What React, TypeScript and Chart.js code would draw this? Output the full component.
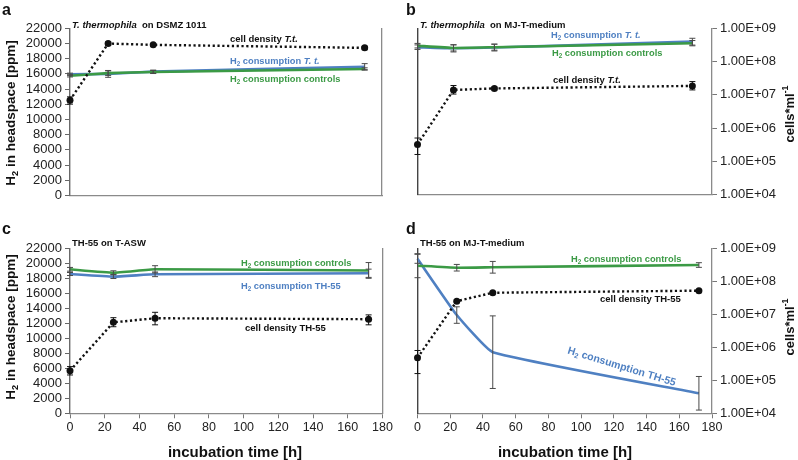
import React, { useEffect, useRef } from "react";
import { Chart, registerables } from "chart.js";

Chart.register(...registerables);

const FONT = '"Liberation Sans", Arial, Helvetica, sans-serif';
const BLUE = "#4f80c2";
const GREEN = "#3b9a45";
const BLACK = "#111111";

// ---------- data ----------
const xTicksMax = 180;
const xStep = 20;
const h2Max = 22000;
const h2Step = 2000;
const cellTicks = [1e4, 1e5, 1e6, 1e7, 1e8, 1e9];

// panel a: T. thermophila on DSMZ 1011
const timesA = [0, 22, 48, 170];
const h2TtA = [15950, 16000, 16300, 16950];
const h2TtErrA = [150, 450, 200, 400];
const h2CtrlA = [15750, 16100, 16250, 16650];
const h2CtrlErrA = [150, 300, 200, 150];
const cellsA = [7.1e6, 3.5e8, 3.2e8, 2.6e8];
const cellsLoA = [5.4e6, 3.1e8, 2.9e8, 2.3e8];
const cellsHiA = [8.9e6, 3.9e8, 3.5e8, 2.9e8];

// panel b: T. thermophila on MJ-T-medium
const timesB = [0, 22, 47, 168];
const h2TtB = [19500, 19350, 19450, 20230];
const h2TtErrB = [300, 480, 450, 450];
const h2CtrlB = [19700, 19400, 19500, 20030];
const h2CtrlErrB = [300, 400, 400, 350];
const cellsB = [3.2e5, 1.4e7, 1.55e7, 1.85e7];
const cellsLoB = [1.6e5, 1.05e7, 1.4e7, 1.4e7];
const cellsHiB = [5.0e5, 1.9e7, 1.7e7, 2.5e7];

// panel c: TH-55 on T-ASW
const timesC = [0, 25, 49, 172];
const h2CtrlC = [19200, 18750, 19200, 19050];
const h2CtrlErrC = [250, 250, 480, 1050];
const h2ThC = [18570, 18220, 18530, 18670];
const h2ThErrC = [200, 250, 310, 550];
const cellsC = [1.95e5, 5.7e6, 7.6e6, 7.1e6];
const cellsLoC = [1.45e5, 4.2e6, 4.8e6, 4.8e6];
const cellsHiC = [2.6e5, 7.9e6, 1.15e7, 9.6e6];

// panel d: TH-55 on MJ-T-medium
const timesD = [0, 24, 46, 172];
const h2CtrlD = [19680, 19410, 19470, 19770];
const h2CtrlErrD = [1600, 440, 780, 310];
const h2ThD = [20600, 13100, 8150, 2670];
const h2ThErrD = [600, 1100, 4840, 2240];
const cellsD = [4.8e5, 2.5e7, 4.5e7, 5.2e7];
const cellsLoD = [1.6e5, 2.3e7, 4.2e7, 4.9e7];
const cellsHiD = [8.0e5, 2.7e7, 4.8e7, 5.5e7];

// ---------- helpers ----------
type Seg = [string, string];
type TextItem = {
  x: number;
  y: number;
  segs: Seg[];
  size: number;
  color?: string;
  rot?: number;
  align?: "left" | "center";
  bold?: boolean;
};

function fontFor(st: string, base: number, bold: boolean) {
  const small = st === "sub" || st === "sup";
  return `${st === "i" ? "italic " : ""}${bold ? "bold " : ""}${small ? base * 0.68 : base}px ${FONT}`;
}

function drawRich(ctx: CanvasRenderingContext2D, it: TextItem) {
  const bold = it.bold !== false;
  let total = 0;
  for (const [t, st] of it.segs) {
    ctx.font = fontFor(st, it.size, bold);
    total += ctx.measureText(t).width;
  }
  ctx.save();
  ctx.translate(it.x, it.y);
  if (it.rot) ctx.rotate((it.rot * Math.PI) / 180);
  let x = it.align === "center" ? -total / 2 : 0;
  ctx.textBaseline = "alphabetic";
  ctx.textAlign = "left";
  ctx.fillStyle = it.color || BLACK;
  for (const [t, st] of it.segs) {
    ctx.font = fontFor(st, it.size, bold);
    let dy = 0;
    if (st === "sub") dy = it.size * 0.22;
    if (st === "sup") dy = -it.size * 0.42;
    ctx.fillText(t, x, it.size * 0.36 + dy);
    x += ctx.measureText(t).width;
  }
  ctx.restore();
}

function fmtSci(v: number) {
  const e = Math.round(Math.log10(v));
  const m = v / Math.pow(10, e);
  return `${m.toFixed(2)}E+${String(e).padStart(2, "0")}`;
}

const errorBarPlugin = {
  id: "errbars",
  afterDatasetsDraw(chart: any) {
    const ctx = chart.ctx as CanvasRenderingContext2D;
    chart.data.datasets.forEach((ds: any) => {
      if (!ds.errLo) return;
      const ys = chart.scales[ds.yAxisID];
      const xs = chart.scales.x;
      ds.data.forEach((pt: any, i: number) => {
        const x = xs.getPixelForValue(pt.x);
        const y1 = ys.getPixelForValue(ds.errLo[i]);
        const y2 = ys.getPixelForValue(ds.errHi[i]);
        ctx.save();
        ctx.strokeStyle = ds.errColor;
        ctx.lineWidth = 1;
        ctx.beginPath();
        ctx.moveTo(x, y1);
        ctx.lineTo(x, y2);
        ctx.moveTo(x - 3, y1);
        ctx.lineTo(x + 3, y1);
        ctx.moveTo(x - 3, y2);
        ctx.lineTo(x + 3, y2);
        ctx.stroke();
        ctx.restore();
      });
    });
  },
};

const textPlugin = {
  id: "richtext",
  afterDraw(chart: any) {
    const items: TextItem[] = chart.options.plugins.richtext?.items || [];
    const ctx = chart.ctx as CanvasRenderingContext2D;
    items.forEach((it) => drawRich(ctx, it));
  },
};

function h2Dataset(label: string, times: number[], vals: number[], errs: number[], color: string) {
  return {
    label,
    data: times.map((t, i) => ({ x: t, y: vals[i] })),
    yAxisID: "y",
    borderColor: color,
    backgroundColor: color,
    borderWidth: 2.6,
    pointRadius: 0,
    tension: 0.12,
    clip: false,
    errLo: vals.map((v, i) => v - errs[i]),
    errHi: vals.map((v, i) => v + errs[i]),
    errColor: "#4a4a4a",
  };
}

function cellDataset(label: string, times: number[], vals: number[], lo: number[], hi: number[]) {
  return {
    label,
    data: times.map((t, i) => ({ x: t, y: vals[i] })),
    yAxisID: "y2",
    borderColor: BLACK,
    backgroundColor: BLACK,
    borderWidth: 2.4,
    borderDash: [2.2, 2.6],
    pointRadius: 3.5,
    pointBackgroundColor: BLACK,
    pointBorderWidth: 0,
    clip: false,
    errLo: lo,
    errHi: hi,
    errColor: BLACK,
  };
}

type PanelCfg = {
  left: number;
  top: number;
  w: number;
  h: number;
  area: { l: number; r: number; t: number; b: number };
  showLeft: boolean;
  showX: boolean;
  datasets: any[];
  texts: TextItem[];
};

function buildConfig(p: PanelCfg): any {
  const tickFont = { family: FONT, size: 13 };
  return {
    type: "line",
    data: { datasets: p.datasets },
    plugins: [errorBarPlugin, textPlugin],
    options: {
      animation: false,
      responsive: false,
      events: [],
      layout: { padding: { top: p.area.t, left: 0, right: 0, bottom: 0 } },
      plugins: {
        legend: { display: false },
        tooltip: { enabled: false },
        richtext: { items: p.texts },
      },
      scales: {
        x: {
          type: "linear",
          position: "bottom",
          min: 0,
          max: xTicksMax,
          ticks: {
            display: p.showX,
            stepSize: xStep,
            color: "#222",
            font: { family: FONT, size: 12.5 },
            padding: 2,
            maxRotation: 0,
            autoSkip: false,
            callback: (v: any) => String(v),
          },
          grid: { display: p.showX, drawOnChartArea: false, drawTicks: true, tickLength: 5, color: "#777" },
          border: { display: true, color: "#8a8a8a", width: 1.3 },
          afterFit: (s: any) => {
            s.height = p.h - p.area.b;
          },
        },
        y: {
          type: "linear",
          position: "left",
          min: 0,
          max: h2Max,
          ticks: {
            display: p.showLeft,
            stepSize: h2Step,
            autoSkip: false,
            color: "#222",
            font: tickFont,
            padding: 3,
            callback: (v: any) => String(v),
          },
          grid: { display: p.showLeft, drawOnChartArea: false, drawTicks: true, tickLength: 5, color: "#666" },
          border: { display: true, color: p.showLeft ? "#6a6a6a" : "#444", width: 1.4 },
          afterFit: (s: any) => {
            s.width = p.area.l;
          },
        },
        y2: {
          type: "logarithmic",
          position: "right",
          min: cellTicks[0],
          max: cellTicks[cellTicks.length - 1],
          afterBuildTicks: (s: any) => {
            s.ticks = cellTicks.map((v) => ({ value: v }));
          },
          ticks: {
            display: !p.showLeft,
            autoSkip: false,
            color: "#222",
            font: tickFont,
            padding: 3,
            callback: (v: any) => fmtSci(Number(v)),
          },
          grid: { display: !p.showLeft, drawOnChartArea: false, drawTicks: true, tickLength: 5, color: "#777" },
          border: { display: true, color: "#8a8a8a", width: 1.3 },
          afterFit: (s: any) => {
            s.width = p.w - p.area.r;
          },
        },
      },
    },
  };
}

function Panel({ cfg }: { cfg: PanelCfg }) {
  const ref = useRef<HTMLCanvasElement | null>(null);
  useEffect(() => {
    if (!ref.current) return;
    const chart = new Chart(ref.current, buildConfig(cfg));
    return () => chart.destroy();
  }, []);
  return (
    <div style={{ position: "absolute", left: cfg.left, top: cfg.top, width: cfg.w, height: cfg.h }}>
      <canvas ref={ref} width={cfg.w} height={cfg.h} style={{ display: "block" }} />
    </div>
  );
}

const H2 = (rest: string, extra?: Seg): Seg[] => {
  const s: Seg[] = [["H", ""], ["2", "sub"], [rest, ""]];
  if (extra) s.push(extra);
  return s;
};

const yTitle = (y: number): TextItem => ({
  x: 10,
  y,
  segs: H2(" in headspace [ppm]"),
  size: 13.5,
  rot: -90,
  align: "center",
});

const rTitle = (y: number): TextItem => ({
  x: 390,
  y,
  segs: [["cells*ml", ""], ["-1", "sup"]],
  size: 13,
  rot: -90,
  align: "center",
});

const xTitle = (x: number): TextItem => ({
  x,
  y: 237,
  segs: [["incubation time [h]", ""]],
  size: 15,
  align: "center",
});

const panels: PanelCfg[] = [
  {
    left: 0,
    top: 0,
    w: 399,
    h: 215,
    area: { l: 70, r: 382, t: 28.3, b: 195.5 },
    showLeft: true,
    showX: false,
    datasets: [
      cellDataset("cell density T.t.", timesA, cellsA, cellsLoA, cellsHiA),
      h2Dataset("H2 consumption controls", timesA, h2CtrlA, h2CtrlErrA, GREEN),
      h2Dataset("H2 consumption T. t.", timesA, h2TtA, h2TtErrA, BLUE),
    ],
    texts: [
      { x: 2, y: 9, segs: [["a", ""]], size: 16 },
      { x: 72, y: 25, segs: [["T. thermophila", "i"], ["  on DSMZ 1011", ""]], size: 9.5 },
      { x: 230, y: 39, segs: [["cell density ", ""], ["T.t.", "i"]], size: 9.5 },
      { x: 230, y: 61, segs: H2(" consumption ", ["T. t.", "i"]), size: 9.3, color: BLUE },
      { x: 230, y: 79, segs: H2(" consumption controls"), size: 9.3, color: GREEN },
      yTitle(113),
    ],
  },
  {
    left: 399,
    top: 0,
    w: 399,
    h: 215,
    area: { l: 18.5, r: 313, t: 28.3, b: 194.5 },
    showLeft: false,
    showX: false,
    datasets: [
      cellDataset("cell density T.t.", timesB, cellsB, cellsLoB, cellsHiB),
      h2Dataset("H2 consumption controls", timesB, h2CtrlB, h2CtrlErrB, GREEN),
      h2Dataset("H2 consumption T. t.", timesB, h2TtB, h2TtErrB, BLUE),
    ],
    texts: [
      { x: 7, y: 9, segs: [["b", ""]], size: 16 },
      { x: 21, y: 25, segs: [["T. thermophila", "i"], ["  on MJ-T-medium", ""]], size: 9.5 },
      { x: 152, y: 35, segs: H2(" consumption ", ["T. t.", "i"]), size: 9.3, color: BLUE },
      { x: 153, y: 53, segs: H2(" consumption controls"), size: 9.3, color: GREEN },
      { x: 154, y: 80, segs: [["cell density ", ""], ["T.t.", "i"]], size: 9.5 },
      rTitle(114),
    ],
  },
  {
    left: 0,
    top: 215,
    w: 399,
    h: 245,
    area: { l: 70, r: 382.5, t: 33.3, b: 198.3 },
    showLeft: true,
    showX: true,
    datasets: [
      cellDataset("cell density TH-55", timesC, cellsC, cellsLoC, cellsHiC),
      h2Dataset("H2 consumption controls", timesC, h2CtrlC, h2CtrlErrC, GREEN),
      h2Dataset("H2 consumption TH-55", timesC, h2ThC, h2ThErrC, BLUE),
    ],
    texts: [
      { x: 2, y: 13, segs: [["c", ""]], size: 16 },
      { x: 72, y: 28, segs: [["TH-55 on T-ASW", ""]], size: 9.5 },
      { x: 241, y: 48, segs: H2(" consumption controls"), size: 9.3, color: GREEN },
      { x: 241, y: 71, segs: H2(" consumption TH-55"), size: 9.3, color: BLUE },
      { x: 245, y: 113, segs: [["cell density TH-55", ""]], size: 9.5 },
      yTitle(112),
      xTitle(235),
    ],
  },
  {
    left: 399,
    top: 215,
    w: 399,
    h: 245,
    area: { l: 18.5, r: 313, t: 33.3, b: 198.3 },
    showLeft: false,
    showX: true,
    datasets: [
      cellDataset("cell density TH-55", timesD, cellsD, cellsLoD, cellsHiD),
      h2Dataset("H2 consumption controls", timesD, h2CtrlD, h2CtrlErrD, GREEN),
      h2Dataset("H2 consumption TH-55", timesD, h2ThD, h2ThErrD, BLUE),
    ],
    texts: [
      { x: 7, y: 13, segs: [["d", ""]], size: 16 },
      { x: 21, y: 28, segs: [["TH-55 on MJ-T-medium", ""]], size: 9.5 },
      { x: 172, y: 44, segs: H2(" consumption controls"), size: 9.3, color: GREEN },
      { x: 201, y: 84, segs: [["cell density TH-55", ""]], size: 9.5 },
      { x: 223, y: 151, segs: H2(" consumption TH-55"), size: 10.5, color: BLUE, rot: 17, align: "center" },
      xTitle(166),
      rTitle(112),
    ],
  },
];

export default function App() {
  return (
    <div style={{ position: "absolute", left: 0, top: 0, width: 798, height: 460, background: "#fff", overflow: "hidden" }}>
      {panels.map((p, i) => (
        <Panel key={i} cfg={p} />
      ))}
    </div>
  );
}
